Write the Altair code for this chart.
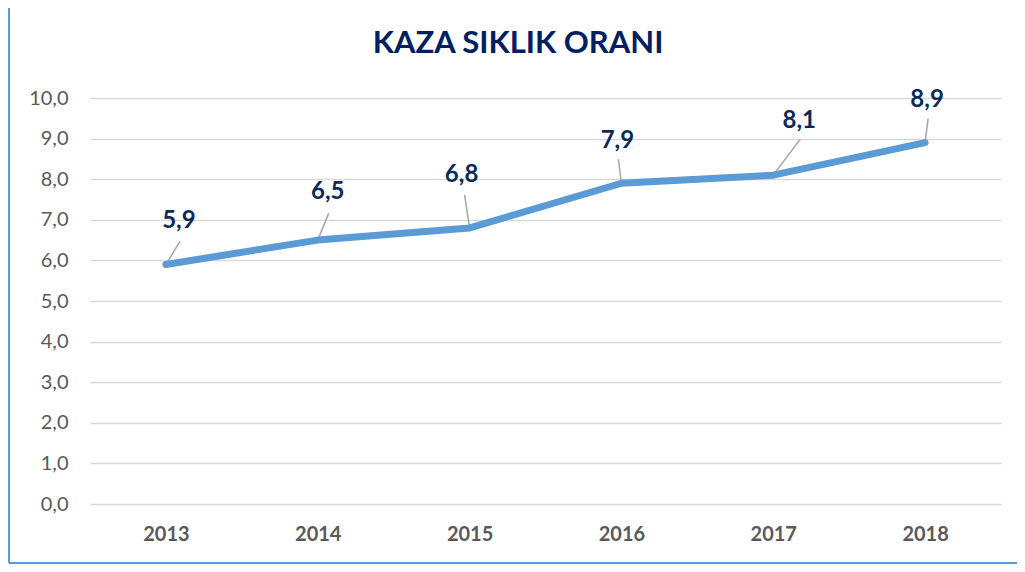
import altair as alt
import pandas as pd

years = [2013, 2014, 2015, 2016, 2017, 2018]
values = [5.9, 6.5, 6.8, 7.9, 8.1, 8.9]
y_ticks = [0, 1, 2, 3, 4, 5, 6, 7, 8, 9, 10]
title_text = ["KAZA SIKLIK ORANI"]

# label placement (pixel offsets from each point), annotation style only
label_dx = [13, 10, -8, -4, 26, 2]
label_dy = [-43, -48, -53, -42, -54, -43]
leader_dx = [14, 11, -5, -3, 27, 3]
leader_dy = [-23, -27, -33, -24, -36, -24]

W, H = 911, 406
X_MIN, X_MAX = 2012.5, 2018.5
PX_PER_YEAR = W / (X_MAX - X_MIN)
PX_PER_UNIT = H / 10.0

df = pd.DataFrame({"year": years, "value": values})
df["label"] = [f"{v:.1f}".replace(".", ",") for v in values]
df["lx"] = [y + d / PX_PER_YEAR for y, d in zip(years, label_dx)]
df["ly"] = [v - d / PX_PER_UNIT for v, d in zip(values, label_dy)]
df["ex"] = [y + d / PX_PER_YEAR for y, d in zip(years, leader_dx)]
df["ey"] = [v - d / PX_PER_UNIT for v, d in zip(values, leader_dy)]

FONT = "Lato"
GREY = "#595959"
NAVY = "#0B2A5C"

xscale = alt.Scale(domain=[X_MIN, X_MAX], nice=False, zero=False)
yscale = alt.Scale(domain=[0, 10], nice=False)

base = alt.Chart(df)

line = base.mark_line(color="#5B9BD5", strokeWidth=7, strokeCap="round", strokeJoin="round").encode(
    x=alt.X("year:Q", scale=xscale,
            axis=alt.Axis(values=years, format="d", title=None, grid=False, domain=False, ticks=False,
                          labelFont=FONT, labelFontSize=20, labelFontWeight="bold", labelColor=GREY,
                          labelPadding=20)),
    y=alt.Y("value:Q", scale=yscale,
            axis=alt.Axis(values=y_ticks, title=None, domain=False, ticks=False,
                          labelExpr="replace(format(datum.value, '.1f'), '.', ',')",
                          labelFont=FONT, labelFontSize=20, labelColor=GREY, labelPadding=22,
                          gridColor="#D9D9D9", gridWidth=1.5)),
)

leaders = base.mark_rule(color="#A6A6A6", strokeWidth=1.5).encode(
    x=alt.X("year:Q", scale=xscale), y=alt.Y("value:Q", scale=yscale),
    x2="ex:Q", y2="ey:Q",
)

labels = base.mark_text(font=FONT, fontSize=24, fontWeight="bold", color=NAVY, baseline="middle",
                        align="center").encode(
    x=alt.X("lx:Q", scale=xscale), y=alt.Y("ly:Q", scale=yscale), text="label:N",
)

title = alt.Chart(pd.DataFrame({"t": title_text})).mark_text(
    font=FONT, fontSize=31, fontWeight="bold", color="#002060", align="center", baseline="alphabetic"
).encode(x=alt.value(428), y=alt.value(-45), text="t:N")

frame_left = alt.Chart(df).mark_rule(color="#5B9BD5", strokeWidth=2).encode(
    x=alt.value(-81), y=alt.value(-90), y2=alt.value(465))
frame_bottom = alt.Chart(df).mark_rule(color="#5B9BD5", strokeWidth=2).encode(
    x=alt.value(-81), x2=alt.value(W + 16), y=alt.value(465))

chart = alt.layer(leaders, line, labels, title, frame_left, frame_bottom).properties(
    width=W, height=H,
    autosize=alt.AutoSizeParams(type="none"),
    padding={"left": 82, "top": 90, "right": 16, "bottom": 60},
).configure_view(stroke=None)

chart.save("out.html", embed_options={"renderer": "svg", "actions": False})
